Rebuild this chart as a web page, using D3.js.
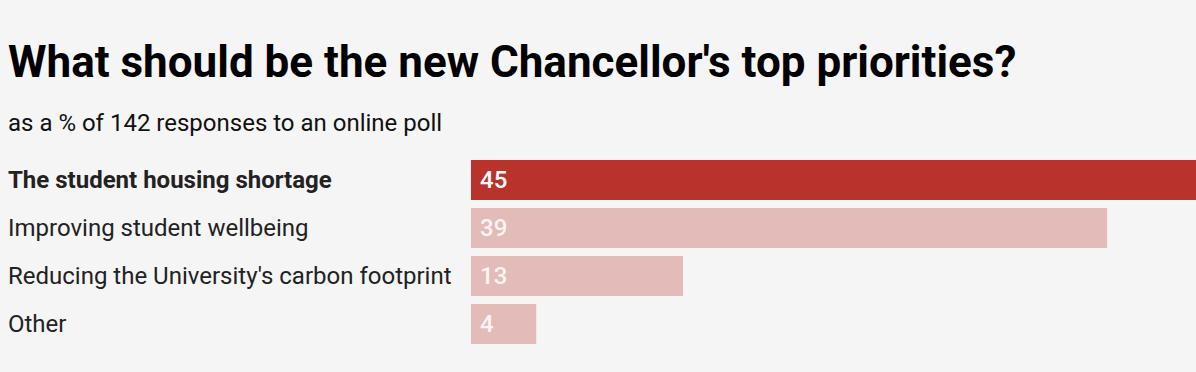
<!DOCTYPE html>
<meta charset="utf-8">
<script src="https://cdn.jsdelivr.net/npm/d3@7"></script>
<style>
body { margin: 0; background: #f5f5f5; }
svg { display: block; font-family: Roboto, sans-serif; }
</style>
<body>
<script>

// Data
var categories = ["The student housing shortage", "Improving student wellbeing",
                  "Reducing the University's carbon footprint", "Other"];
var values = [45, 39, 13, 4];
var highlight = "The student housing shortage";

var width = 1196, height = 372;
var margin = {top: 160, left: 471};

var svg = d3.select("body").append("svg")
    .attr("width", width)
    .attr("height", height);

svg.append("text")
    .attr("x", 8)
    .attr("y", 77)
    .attr("font-size", "44px")
    .attr("font-weight", "bold")
    .attr("fill", "#000")
    .text("What should be the new Chancellor's top priorities?");

svg.append("text")
    .attr("x", 8)
    .attr("y", 131)
    .attr("font-size", "24px")
    .attr("fill", "#111")
    .text("as a % of 142 responses to an online poll");

// x: 16.31px per percentage point, so the top bar runs off the right edge
var x = d3.scaleLinear().domain([0, 45]).range([margin.left, margin.left + 734]);
var y = d3.scaleBand().domain(categories).range([margin.top, margin.top + 184]).paddingInner(8 / 48).paddingOuter(0);

var rows = svg.selectAll(".row")
    .data(categories)
    .enter().append("g")
    .attr("class", "row");

rows.append("rect")
    .attr("x", x(0))
    .attr("y", function(d) { return y(d); })
    .attr("width", function(d, i) { return x(values[i]) - x(0); })
    .attr("height", y.bandwidth())
    .attr("fill", function(d) { return d == highlight ? "#b9322b" : "#e3bbb9"; });

rows.append("text")
    .attr("x", 8)
    .attr("y", function(d) { return y(d) + y.bandwidth() / 2; })
    .attr("dy", "0.35em")
    .attr("font-size", "24px")
    .attr("font-weight", function(d) { return d == highlight ? "bold" : "normal"; })
    .attr("fill", "#222")
    .text(String);

rows.append("text")
    .attr("x", x(0) + 9)
    .attr("y", function(d) { return y(d) + y.bandwidth() / 2; })
    .attr("dy", "0.35em")
    .attr("font-size", "24px")
    .attr("font-weight", 500)
    .attr("fill", "#fff")
    .attr("fill-opacity", function(d) { return d == highlight ? 1 : 0.85; })
    .text(function(d, i) { return values[i]; });

</script>
</body>
</html>
